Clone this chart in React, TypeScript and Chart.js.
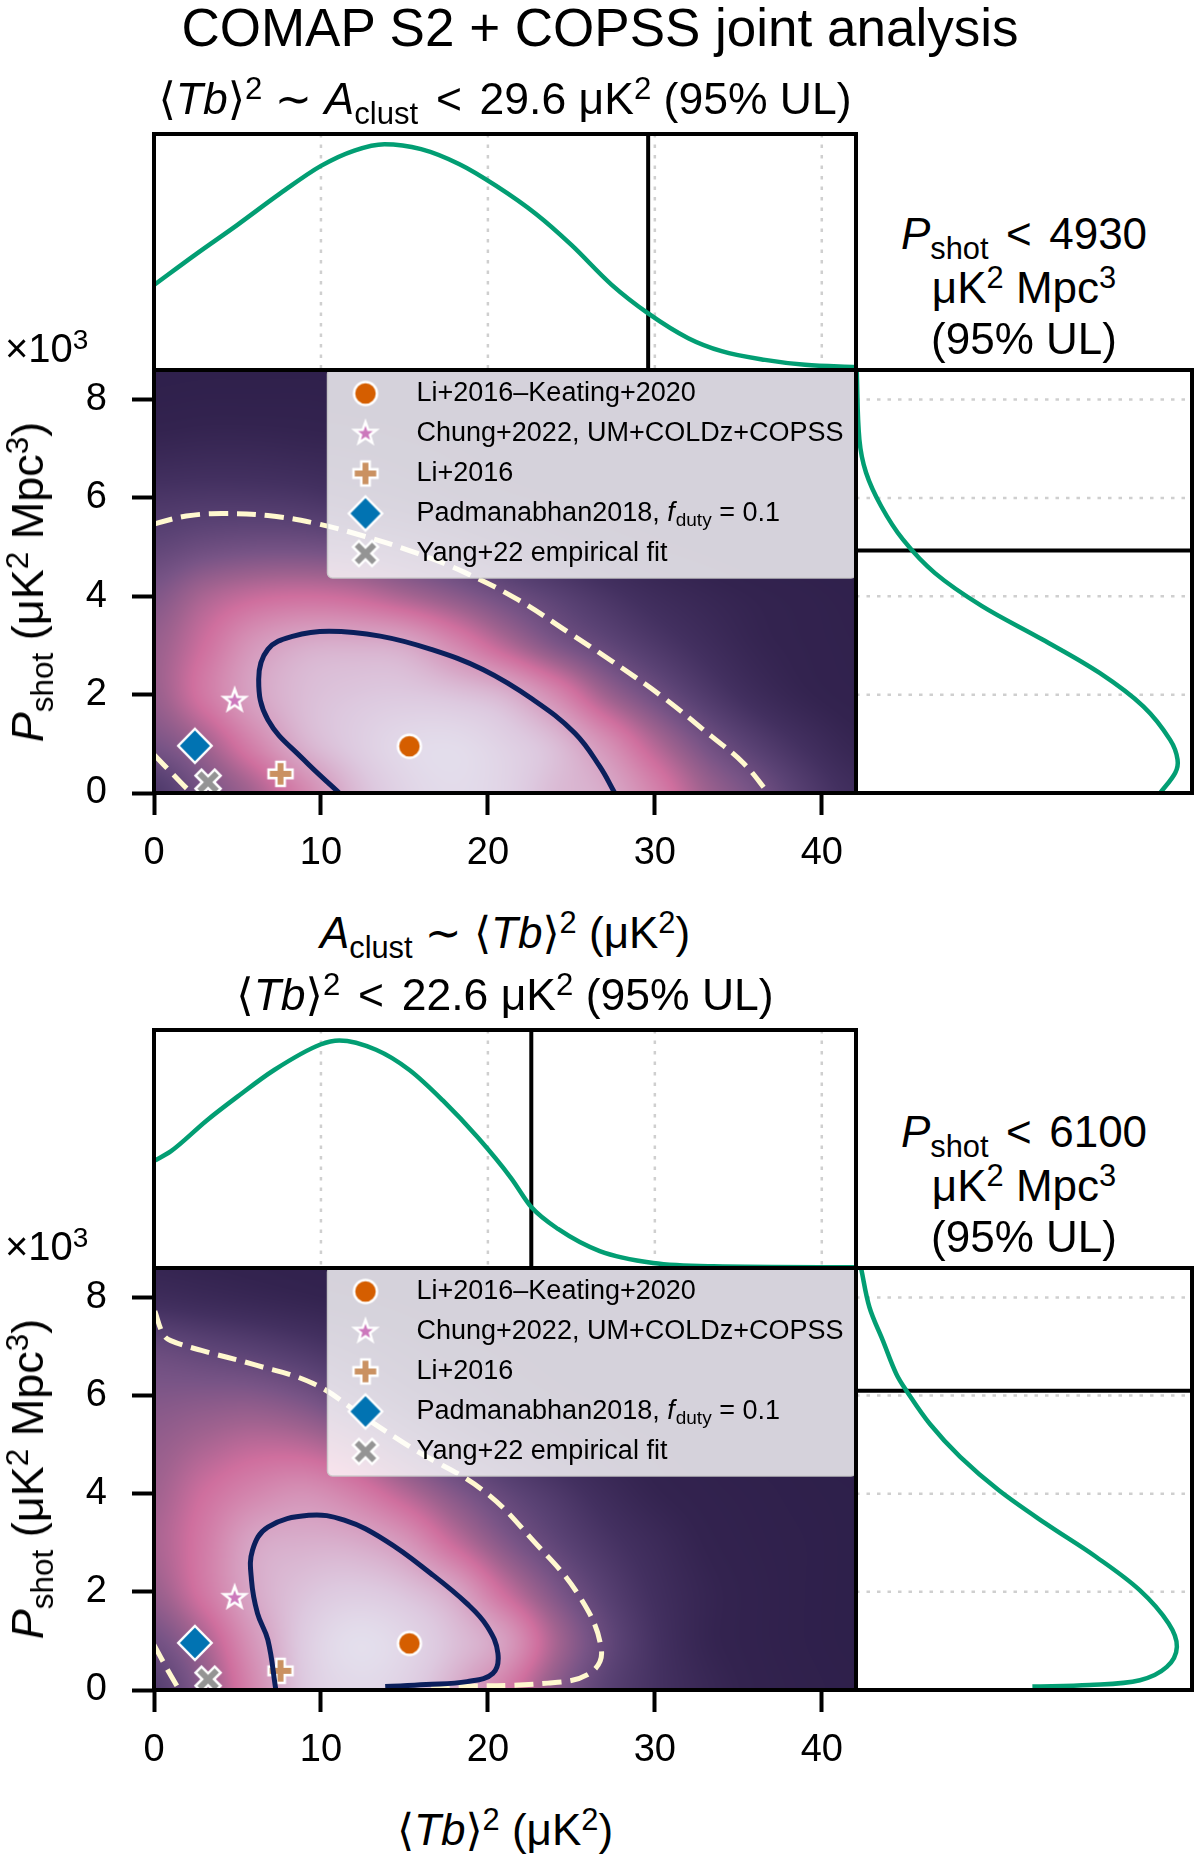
import React, { useEffect, useRef } from "react";
import { Chart, registerables } from "chart.js";

Chart.register(...registerables);

const FONT = '"Liberation Sans", Arial, Helvetica, sans-serif';
const MATHFONT = '"DejaVu Sans", "Liberation Sans", sans-serif';

// ---------------- data ----------------
const xMax = 42.05; // A_clust / <Tb>^2 axis range (uK^2)
const yMax = 8.6; // P_shot axis range (x10^3 uK^2 Mpc^3)
const xTickValues = [0, 10, 20, 30, 40];
const yTickValues = [0, 2, 4, 6, 8];
const marginalGridA = [10, 20, 30, 40];
const marginalGridShot = [2, 4, 6, 8];

const modelNames = [
  "Li+2016\u2013Keating+2020",
  "Chung+2022, UM+COLDz+COPSS",
  "Li+2016",
  "Padmanabhan2018, f_duty = 0.1",
  "Yang+22 empirical fit",
];
const modelAclust = [15.3, 4.83, 7.58, 2.45, 3.24];
const modelPshot = [0.95, 1.88, 0.39, 0.96, 0.22];
const modelColors = ["#d55e00", "#cc78bc", "#ca9161", "#0173b2", "#949494"];
const modelShapes = ["circle", "star", "plus", "diamond", "x"];

const ulAclust = [29.6, 22.6];
const ulPshot = [4930, 6100];

// panel 1 contours (68% solid, 95% dashed)
const p1SolidA = [11.1, 8.96, 6.82, 6.27, 6.82, 8.35, 10.49, 13.55, 16.6, 19.7, 22.7, 25.2, 26.7, 27.6];
const p1SolidShot = [0, 0.68, 1.49, 2.31, 2.92, 3.19, 3.29, 3.19, 2.92, 2.51, 1.9, 1.22, 0.54, 0];
const p1DashA = [0, 1.93, 4.07, 6.82, 9.57, 12.6, 15.7, 18.7, 21.8, 24.9, 27.3, 30.4, 33.4, 35.3, 36.8];
const p1DashShot = [5.47, 5.63, 5.68, 5.64, 5.49, 5.22, 4.88, 4.47, 3.93, 3.25, 2.71, 1.97, 1.15, 0.61, 0];
const p1DashLowA = [0, 1.16, 2.23];
const p1DashLowShot = [0.78, 0.37, 0];

// panel 2 contours
const p2SolidA = [7.3, 6.82, 6.2, 5.84, 5.9, 6.82, 9.27, 11.4, 13.85, 16.6, 18.75, 19.97, 20.6, 20.3, 18.75, 16.3, 13.85];
const p2SolidShot = [0, 1.02, 1.56, 2.24, 2.85, 3.32, 3.56, 3.46, 3.05, 2.37, 1.76, 1.29, 0.75, 0.34, 0.17, 0.11, 0.07];
const p2DashA = [0.05, 0.55, 1.0, 2.84, 5.9, 9.57, 12.6, 15.7, 19.7, 22.7, 25.5, 26.8, 26.1, 23.6, 16.6];
const p2DashShot = [7.72, 7.25, 7.12, 6.92, 6.64, 6.24, 5.56, 4.88, 4.07, 3.05, 1.9, 0.81, 0.34, 0.14, 0.07];
const p2DashLowA = [0, 0.8, 1.52];
const p2DashLowShot = [0.92, 0.42, 0];

// marginal posteriors (normalised to the panel height / width)
const p1TopA = [0, 2.5, 5, 7.5, 10, 12, 13.8, 16, 18.3, 20.5, 22.9, 25, 27.4, 29.6, 32, 34, 36.6, 39, 42.05];
const p1TopDensity = [0.36, 0.49, 0.615, 0.745, 0.865, 0.93, 0.957, 0.936, 0.872, 0.78, 0.66, 0.53, 0.362, 0.24, 0.135, 0.08, 0.043, 0.022, 0.012];
const p1SideShot = [8.6, 7.19, 6.51, 5.83, 5.15, 4.47, 3.8, 3.12, 2.44, 1.76, 1.08, 0.68, 0.41, 0];
const p1SideDensity = [0.002, 0.01, 0.03, 0.075, 0.14, 0.235, 0.375, 0.555, 0.725, 0.855, 0.935, 0.957, 0.95, 0.905];

const p2TopA = [0, 1, 3.16, 5, 7.2, 9.97, 11.1, 13.3, 15.3, 17.3, 19.4, 21.4, 22.6, 24.2, 26.7, 29.9, 33.5, 42.05];
const p2TopDensity = [0.45, 0.49, 0.62, 0.72, 0.832, 0.939, 0.956, 0.917, 0.832, 0.704, 0.548, 0.377, 0.256, 0.164, 0.071, 0.021, 0.007, 0.003];
const p2SideShot = [8.6, 7.8, 7.12, 6.44, 6.1, 5.42, 4.75, 4.07, 3.39, 2.71, 2.03, 1.36, 0.88, 0.47, 0.2, 0.1, 0.07];
const p2SideDensity = [0.015, 0.04, 0.08, 0.12, 0.15, 0.22, 0.31, 0.425, 0.565, 0.715, 0.845, 0.93, 0.955, 0.925, 0.845, 0.695, 0.525];

// 2D posterior grid (colour level 0..1), rows = P_shot 0..9, cols = A 0..42 step 3
const heatGridA = [0, 3, 6, 9, 12, 15, 18, 21, 24, 27, 30, 33, 36, 39, 42];
const heatGridShot = [0, 1, 2, 3, 4, 5, 6, 7, 8, 9];
const p1Heat = [
  [0.25, 0.39, 0.51, 0.68, 0.85, 0.94, 0.97, 0.94, 0.86, 0.81, 0.67, 0.5, 0.39, 0.27, 0.18],
  [0.4, 0.5, 0.67, 0.83, 0.91, 0.96, 0.97, 0.93, 0.86, 0.72, 0.54, 0.39, 0.28, 0.19, 0.12],
  [0.48, 0.63, 0.78, 0.86, 0.89, 0.9, 0.88, 0.83, 0.69, 0.5, 0.37, 0.26, 0.17, 0.11, 0.08],
  [0.48, 0.6, 0.74, 0.81, 0.82, 0.8, 0.69, 0.55, 0.42, 0.33, 0.25, 0.18, 0.12, 0.09, 0.07],
  [0.42, 0.52, 0.58, 0.6, 0.58, 0.52, 0.45, 0.37, 0.3, 0.23, 0.17, 0.13, 0.1, 0.08, 0.06],
  [0.32, 0.36, 0.38, 0.38, 0.36, 0.32, 0.27, 0.21, 0.16, 0.12, 0.09, 0.07, 0.05, 0.04, 0.03],
  [0.23, 0.24, 0.24, 0.23, 0.2, 0.17, 0.13, 0.1, 0.08, 0.06, 0.05, 0.04, 0.03, 0.02, 0.02],
  [0.13, 0.14, 0.14, 0.13, 0.12, 0.1, 0.08, 0.06, 0.05, 0.04, 0.03, 0.02, 0.02, 0.01, 0.01],
  [0.06, 0.07, 0.07, 0.07, 0.06, 0.05, 0.04, 0.03, 0.03, 0.02, 0.02, 0.01, 0.01, 0.01, 0.01],
  [0.03, 0.03, 0.03, 0.03, 0.03, 0.02, 0.02, 0.02, 0.01, 0.01, 0.01, 0.01, 0.01, 0.01, 0.01],
];
const p2Heat = [
  [0.28, 0.45, 0.69, 0.9, 0.96, 0.93, 0.82, 0.65, 0.45, 0.3, 0.21, 0.14, 0.09, 0.06, 0.04],
  [0.38, 0.52, 0.74, 0.91, 0.98, 0.95, 0.87, 0.76, 0.52, 0.34, 0.21, 0.12, 0.08, 0.05, 0.03],
  [0.48, 0.63, 0.8, 0.88, 0.91, 0.88, 0.79, 0.59, 0.42, 0.29, 0.19, 0.12, 0.08, 0.05, 0.03],
  [0.52, 0.64, 0.79, 0.82, 0.81, 0.74, 0.58, 0.43, 0.32, 0.23, 0.16, 0.1, 0.07, 0.05, 0.03],
  [0.5, 0.6, 0.68, 0.72, 0.66, 0.55, 0.43, 0.33, 0.25, 0.17, 0.11, 0.08, 0.06, 0.04, 0.03],
  [0.47, 0.52, 0.56, 0.55, 0.48, 0.37, 0.28, 0.21, 0.15, 0.11, 0.08, 0.06, 0.04, 0.03, 0.02],
  [0.42, 0.43, 0.43, 0.39, 0.31, 0.23, 0.17, 0.12, 0.09, 0.07, 0.05, 0.04, 0.03, 0.02, 0.02],
  [0.34, 0.31, 0.28, 0.24, 0.19, 0.14, 0.1, 0.08, 0.06, 0.04, 0.03, 0.03, 0.02, 0.02, 0.01],
  [0.17, 0.15, 0.13, 0.11, 0.09, 0.07, 0.05, 0.04, 0.03, 0.03, 0.02, 0.02, 0.01, 0.01, 0.01],
  [0.1, 0.09, 0.08, 0.07, 0.05, 0.04, 0.03, 0.03, 0.02, 0.02, 0.01, 0.01, 0.01, 0.01, 0.01],
];

// colour map
const cmapStops = [0, 0.1, 0.2, 0.3, 0.4, 0.5, 0.6, 0.7, 0.8, 0.9, 1];
const cmapColors = ["#2c1e49", "#33234f", "#433060", "#5a4274", "#785486", "#a0628f", "#cf6f9e", "#d48cb2", "#d7a8c7", "#ddc9df", "#e5e3ef"];

// per-panel lookups
const solidAs = [p1SolidA, p2SolidA];
const solidShots = [p1SolidShot, p2SolidShot];
const dashAs = [p1DashA, p2DashA];
const dashShots = [p1DashShot, p2DashShot];
const dashLowAs = [p1DashLowA, p2DashLowA];
const dashLowShots = [p1DashLowShot, p2DashLowShot];
const topAs = [p1TopA, p2TopA];
const topDensities = [p1TopDensity, p2TopDensity];
const sideShots = [p1SideShot, p2SideShot];
const sideDensities = [p1SideDensity, p2SideDensity];
const heats = [p1Heat, p2Heat];

// ---------------- layout ----------------
const plotLeft = 154;
const plotRight = 856;
const sideRight = 1192;
const margTops = [134, 1030];
const mainTops = [370, 1268];
const mainBottoms = [793, 1690];
const MAIN_PAD_TOP = 56;
const MAIN_PAD_RIGHT = 50;
const MAIN_AXIS_H = 100;

const GREEN = "#029e73";

// ---------------- helpers ----------------
function hexToRgb(h: string) {
  return [parseInt(h.slice(1, 3), 16), parseInt(h.slice(3, 5), 16), parseInt(h.slice(5, 7), 16)];
}
const cmapRgb = cmapColors.map(hexToRgb);
function cmap(t: number) {
  const v = Math.max(0, Math.min(1, t));
  let k = 0;
  while (k < cmapStops.length - 2 && v > cmapStops[k + 1]) k++;
  const f = (v - cmapStops[k]) / (cmapStops[k + 1] - cmapStops[k]);
  const a = cmapRgb[k], b = cmapRgb[k + 1];
  return [a[0] + (b[0] - a[0]) * f, a[1] + (b[1] - a[1]) * f, a[2] + (b[2] - a[2]) * f];
}
function catmull(p0: number, p1: number, p2: number, p3: number, t: number) {
  return 0.5 * (2 * p1 + (-p0 + p2) * t + (2 * p0 - 5 * p1 + 4 * p2 - p3) * t * t + (-p0 + 3 * p1 - 3 * p2 + p3) * t * t * t);
}
function sampleGrid(g: number[][], xv: number, yv: number) {
  const fx = (xv - heatGridA[0]) / (heatGridA[1] - heatGridA[0]);
  const fy = (yv - heatGridShot[0]) / (heatGridShot[1] - heatGridShot[0]);
  const ix = Math.floor(fx), iy = Math.floor(fy);
  const tx = fx - ix, ty = fy - iy;
  const nx = heatGridA.length, ny = heatGridShot.length;
  const v = (i: number, j: number) => g[Math.min(ny - 1, Math.max(0, j))][Math.min(nx - 1, Math.max(0, i))];
  const r: number[] = [];
  for (let m = -1; m <= 2; m++) r.push(catmull(v(ix - 1, iy + m), v(ix, iy + m), v(ix + 1, iy + m), v(ix + 2, iy + m), tx));
  return catmull(r[0], r[1], r[2], r[3], ty);
}

function makeMarker(shape: string, color: string): HTMLCanvasElement {
  const S = 44;
  const c = document.createElement("canvas");
  c.width = S;
  c.height = S;
  const g = c.getContext("2d")!;
  g.translate(S / 2, S / 2);
  g.beginPath();
  if (shape === "circle") {
    g.arc(0, 0, 11.5, 0, Math.PI * 2);
  } else if (shape === "diamond") {
    const r = 17;
    g.moveTo(0, -r);
    g.lineTo(r * 0.98, 0);
    g.lineTo(0, r);
    g.lineTo(-r * 0.98, 0);
    g.closePath();
  } else if (shape === "star") {
    for (let k = 0; k < 10; k++) {
      const rr = k % 2 === 0 ? 11.5 : 4.7;
      const a = -Math.PI / 2 + (k * Math.PI) / 5;
      if (k === 0) g.moveTo(rr * Math.cos(a), rr * Math.sin(a));
      else g.lineTo(rr * Math.cos(a), rr * Math.sin(a));
    }
    g.closePath();
  } else {
    let a = 12, b = 4.2;
    if (shape === "x") {
      g.rotate(Math.PI / 4);
      a = 13.5;
      b = 4.2;
    }
    const pts = [[-b, -a], [b, -a], [b, -b], [a, -b], [a, b], [b, b], [b, a], [-b, a], [-b, b], [-a, b], [-a, -b], [-b, -b]];
    pts.forEach((p, k) => (k === 0 ? g.moveTo(p[0], p[1]) : g.lineTo(p[0], p[1])));
    g.closePath();
  }
  g.fillStyle = color;
  g.fill();
  g.lineWidth = 2.5;
  g.strokeStyle = "#ffffff";
  g.lineJoin = "miter";
  g.stroke();
  return c;
}

const framePlugin = {
  id: "frameBox",
  afterDraw(chart: any) {
    const { ctx, chartArea: a } = chart;
    ctx.save();
    ctx.strokeStyle = "#000";
    ctx.lineWidth = 4;
    ctx.strokeRect(a.left, a.top, a.right - a.left, a.bottom - a.top);
    ctx.restore();
  },
};

function dotGridPlugin(axis: "x" | "y", values: number[]) {
  return {
    id: "dotGrid",
    beforeDatasetsDraw(chart: any) {
      const { ctx, chartArea: a, scales } = chart;
      ctx.save();
      ctx.strokeStyle = "#cfcfcf";
      ctx.lineWidth = 2.5;
      ctx.setLineDash([3.5, 7]);
      values.forEach((v) => {
        ctx.beginPath();
        if (axis === "x") {
          const px = scales.x.getPixelForValue(v);
          ctx.moveTo(px, a.top);
          ctx.lineTo(px, a.bottom);
        } else {
          const py = scales.y.getPixelForValue(v);
          ctx.moveTo(a.left, py);
          ctx.lineTo(a.right, py);
        }
        ctx.stroke();
      });
      ctx.restore();
    },
  };
}

function heatPlugin(grid: number[][]) {
  return {
    id: "heatField",
    beforeDatasetsDraw(chart: any) {
      const { ctx, chartArea: a, scales } = chart;
      const w = Math.round(a.right - a.left), h = Math.round(a.bottom - a.top);
      const off = document.createElement("canvas");
      off.width = w;
      off.height = h;
      const octx = off.getContext("2d")!;
      const img = octx.createImageData(w, h);
      const xs: number[] = [];
      for (let i = 0; i < w; i++) xs.push(scales.x.getValueForPixel(a.left + i + 0.5));
      for (let j = 0; j < h; j++) {
        const yv = scales.y.getValueForPixel(a.top + j + 0.5);
        for (let i = 0; i < w; i++) {
          const c = cmap(sampleGrid(grid, xs[i], yv));
          const o = (j * w + i) * 4;
          img.data[o] = c[0];
          img.data[o + 1] = c[1];
          img.data[o + 2] = c[2];
          img.data[o + 3] = 255;
        }
      }
      octx.putImageData(img, 0, 0);
      ctx.drawImage(off, a.left, a.top);
    },
  };
}

function drawLegendText(ctx: CanvasRenderingContext2D, text: string, x: number, y: number) {
  const size = 27;
  const parts = text.split(/(f_duty)/);
  let cx = x;
  ctx.fillStyle = "#000";
  ctx.textBaseline = "middle";
  ctx.textAlign = "left";
  for (const p of parts) {
    if (!p) continue;
    if (p === "f_duty") {
      ctx.font = `italic ${size}px ${FONT}`;
      ctx.fillText("f", cx, y);
      cx += ctx.measureText("f").width + 1;
      ctx.font = `${Math.round(size * 0.7)}px ${FONT}`;
      ctx.fillText("duty", cx, y + size * 0.28);
      cx += ctx.measureText("duty").width;
    } else {
      ctx.font = `${size}px ${FONT}`;
      ctx.fillText(p, cx, y);
      cx += ctx.measureText(p).width;
    }
  }
}

function legendPlugin(markers: HTMLCanvasElement[]) {
  return {
    id: "modelLegend",
    afterDatasetsDraw(chart: any) {
      const { ctx, chartArea: a } = chart;
      const w = 528.5, h = 209;
      const left = a.right - w, top = a.top - 1;
      ctx.save();
      ctx.beginPath();
      ctx.roundRect(left, top, w, h, 5);
      ctx.fillStyle = "rgba(255,255,255,0.8)";
      ctx.fill();
      ctx.strokeStyle = "rgba(204,204,204,0.9)";
      ctx.lineWidth = 1.5;
      ctx.stroke();
      modelNames.forEach((name, i) => {
        const cy = a.top + 23.5 + i * 40;
        const img = markers[i];
        ctx.drawImage(img, a.right - 490.5 - img.width / 2, cy - img.height / 2);
        drawLegendText(ctx, name, a.right - 439.5, cy);
      });
      ctx.restore();
    },
  };
}

function pts(xs: number[], ys: number[]) {
  return xs.map((x, k) => ({ x, y: ys[k] }));
}

function buildMain(canvas: HTMLCanvasElement, i: number) {
  const markers = modelShapes.map((s, k) => makeMarker(s, modelColors[k]));
  const tickFont = { family: FONT, size: 38 };
  return new Chart(canvas, {
    type: "scatter",
    data: {
      datasets: [
        { data: pts(solidAs[i], solidShots[i]), showLine: true, borderColor: "#0b1f5c", borderWidth: 5, pointRadius: 0, tension: 0.4, clip: 0 } as any,
        { data: pts(dashAs[i], dashShots[i]), showLine: true, borderColor: "#fff8cf", borderWidth: 5, borderDash: [19, 9], pointRadius: 0, tension: 0.4, clip: 0 } as any,
        { data: pts(dashLowAs[i], dashLowShots[i]), showLine: true, borderColor: "#fff8cf", borderWidth: 5, borderDash: [19, 9], pointRadius: 0, tension: 0.4, clip: 0 } as any,
        ...modelNames.map((name, k) => ({
          label: name,
          data: [{ x: modelAclust[k], y: modelPshot[k] }],
          pointStyle: markers[k],
          pointRadius: 13,
          clip: 0,
        })),
      ],
    },
    options: {
      animation: false,
      responsive: false,
      devicePixelRatio: 1,
      events: [],
      layout: { padding: { top: MAIN_PAD_TOP, right: MAIN_PAD_RIGHT, left: 0, bottom: 0 } },
      plugins: { legend: { display: false }, tooltip: { enabled: false } },
      scales: {
        x: {
          type: "linear",
          min: 0,
          max: xMax,
          afterBuildTicks: (s: any) => {
            s.ticks = xTickValues.map((v) => ({ value: v }));
          },
          afterFit: (s: any) => {
            s.height = MAIN_AXIS_H;
          },
          grid: { drawOnChartArea: false, drawTicks: true, tickLength: 22, tickWidth: 4, tickColor: "#000" },
          border: { display: false },
          ticks: { font: tickFont, color: "#000", padding: 16, maxRotation: 0, minRotation: 0, autoSkip: false },
        },
        y: {
          type: "linear",
          min: 0,
          max: yMax,
          afterBuildTicks: (s: any) => {
            s.ticks = yTickValues.map((v) => ({ value: v }));
          },
          afterFit: (s: any) => {
            s.width = plotLeft;
          },
          grid: { drawOnChartArea: false, drawTicks: true, tickLength: 22, tickWidth: 4, tickColor: "#000" },
          border: { display: false },
          ticks: { font: tickFont, color: "#000", padding: 25, autoSkip: false },
        },
      },
    } as any,
    plugins: [heatPlugin(heats[i]), legendPlugin(markers), framePlugin],
  });
}

function buildTop(canvas: HTMLCanvasElement, i: number) {
  return new Chart(canvas, {
    type: "scatter",
    data: {
      datasets: [
        { data: pts(topAs[i], topDensities[i]), showLine: true, borderColor: GREEN, borderWidth: 4.5, pointRadius: 0, cubicInterpolationMode: "monotone", clip: 4 } as any,
        { data: [{ x: ulAclust[i], y: 0 }, { x: ulAclust[i], y: 1 }], showLine: true, borderColor: "#000", borderWidth: 4, pointRadius: 0, clip: 0 } as any,
      ],
    },
    options: {
      animation: false,
      responsive: false,
      devicePixelRatio: 1,
      events: [],
      layout: { padding: 10 },
      plugins: { legend: { display: false }, tooltip: { enabled: false } },
      scales: {
        x: { type: "linear", display: false, min: 0, max: xMax },
        y: { type: "linear", display: false, min: 0, max: 1 },
      },
    } as any,
    plugins: [dotGridPlugin("x", marginalGridA), framePlugin],
  });
}

function buildSide(canvas: HTMLCanvasElement, i: number) {
  return new Chart(canvas, {
    type: "scatter",
    data: {
      datasets: [
        { data: pts(sideDensities[i], sideShots[i]), showLine: true, borderColor: GREEN, borderWidth: 4.5, pointRadius: 0, tension: 0.35, clip: 4 } as any,
        { data: [{ x: 0, y: ulPshot[i] / 1000 }, { x: 1, y: ulPshot[i] / 1000 }], showLine: true, borderColor: "#000", borderWidth: 4, pointRadius: 0, clip: 0 } as any,
      ],
    },
    options: {
      animation: false,
      responsive: false,
      devicePixelRatio: 1,
      events: [],
      layout: { padding: 10 },
      plugins: { legend: { display: false }, tooltip: { enabled: false } },
      scales: {
        x: { type: "linear", display: false, min: 0, max: 1 },
        y: { type: "linear", display: false, min: 0, max: yMax },
      },
    } as any,
    plugins: [dotGridPlugin("y", marginalGridShot), framePlugin],
  });
}

function ChartBox({ left, top, width, height, build }: { left: number; top: number; width: number; height: number; build: (c: HTMLCanvasElement) => Chart }) {
  const ref = useRef<HTMLCanvasElement>(null);
  useEffect(() => {
    const chart = build(ref.current!);
    return () => chart.destroy();
  }, []);
  return (
    <div style={{ position: "absolute", left, top, width, height }}>
      <canvas ref={ref} width={width} height={height} style={{ display: "block", width, height }} />
    </div>
  );
}

// ---------------- text helpers ----------------
const Sup = ({ children }: any) => <span style={{ fontSize: "0.7em", position: "relative", top: "-0.48em" }}>{children}</span>;
const Sub = ({ children }: any) => <span style={{ fontSize: "0.7em", position: "relative", top: "0.32em" }}>{children}</span>;
const Mth = ({ children }: any) => <span style={{ fontFamily: MATHFONT }}>{children}</span>;
const Rel = ({ children }: any) => <span style={{ margin: "0 0.12em" }}>{children}</span>;
const TbSq = () => (
  <>
    <Mth>{"\u27E8"}</Mth>
    <i>Tb</i>
    <Mth>{"\u27E9"}</Mth>
    <Sup>2</Sup>
  </>
);

function Label({ cx, cy, size, rotate, children }: any) {
  return (
    <div
      style={{
        position: "absolute",
        left: cx,
        top: cy,
        transform: `translate(-50%, -50%)${rotate ? ` rotate(${rotate}deg)` : ""}`,
        fontSize: size,
        lineHeight: `${size}px`,
        whiteSpace: "nowrap",
      }}
    >
      {children}
    </div>
  );
}

function Panel({ i }: { i: number }) {
  const mT = mainTops[i], mB = mainBottoms[i], gT = margTops[i];
  const mainH = mB - mT;
  const plotCx = (plotLeft + plotRight) / 2;
  const sideCx = (plotRight + sideRight) / 2;
  return (
    <>
      <ChartBox
        left={0}
        top={mT - MAIN_PAD_TOP}
        width={plotRight + MAIN_PAD_RIGHT}
        height={mainH + MAIN_PAD_TOP + MAIN_AXIS_H}
        build={(c) => buildMain(c, i)}
      />
      <ChartBox left={plotLeft - 10} top={gT - 10} width={plotRight - plotLeft + 20} height={mT - gT + 20} build={(c) => buildTop(c, i)} />
      <ChartBox left={plotRight - 10} top={mT - 10} width={sideRight - plotRight + 20} height={mainH + 20} build={(c) => buildSide(c, i)} />

      <Label cx={plotCx} cy={gT - 32} size={44.5}>
        {i === 0 ? (
          <>
            <TbSq /> <Mth>{"\u223C"}</Mth> <i>A</i>
            <Sub>clust</Sub> <Rel>&lt;</Rel> {ulAclust[i]} μK<Sup>2</Sup> (95% UL)
          </>
        ) : (
          <>
            <TbSq /> <Rel>&lt;</Rel> {ulAclust[i]} μK<Sup>2</Sup> (95% UL)
          </>
        )}
      </Label>

      <Label cx={sideCx} cy={mT - 134} size={44}>
        <i>P</i>
        <Sub>shot</Sub> <Rel>&lt;</Rel> {ulPshot[i]}
      </Label>
      <Label cx={sideCx} cy={mT - 80} size={44}>
        μK<Sup>2</Sup> Mpc<Sup>3</Sup>
      </Label>
      <Label cx={sideCx} cy={mT - 31} size={44}>
        (95% UL)
      </Label>

      <div style={{ position: "absolute", left: 5, top: mT - 20, transform: "translateY(-50%)", fontSize: 40, lineHeight: "40px", whiteSpace: "nowrap" }}>
        ×10<Sup>3</Sup>
      </div>

      <Label cx={30} cy={(mT + mB) / 2} size={45} rotate={-90}>
        <i>P</i>
        <Sub>shot</Sub> (μK<Sup>2</Sup> Mpc<Sup>3</Sup>)
      </Label>

      <Label cx={plotCx} cy={mB + 142} size={44}>
        {i === 0 ? (
          <>
            <i>A</i>
            <Sub>clust</Sub> <Mth>{"\u223C"}</Mth> <TbSq /> (μK<Sup>2</Sup>)
          </>
        ) : (
          <>
            <TbSq /> (μK<Sup>2</Sup>)
          </>
        )}
      </Label>
    </>
  );
}

export default function App() {
  return (
    <div
      style={{
        position: "absolute",
        left: 0,
        top: 0,
        width: 1200,
        height: 1858,
        background: "#ffffff",
        fontFamily: FONT,
        color: "#000",
        overflow: "hidden",
      }}
    >
      <Label cx={600} cy={27} size={53}>
        COMAP S2 + COPSS joint analysis
      </Label>
      <Panel i={0} />
      <Panel i={1} />
    </div>
  );
}
